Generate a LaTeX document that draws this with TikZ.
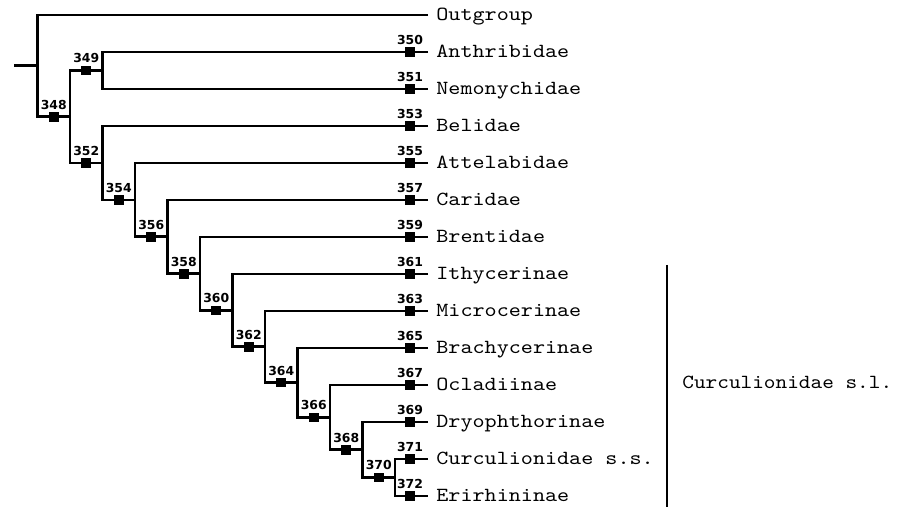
\documentclass[tikz,border=0pt]{standalone}
\usepackage{fontspec}
\newfontfamily\numfont{DejaVu Sans}
\newfontfamily\courfont[Extension=.otf, FakeStretch=1.15]{lmmono10-regular}
\newfontfamily\courslfont[Extension=.otf, FakeStretch=1.11]{lmmono10-regular}
\begin{document}
\begin{tikzpicture}[x=0.5pt,y=-0.5pt,
  br/.style={line width=1.4pt, line join=miter},
  sq/.style={fill=black, minimum size=4.8pt, inner sep=0pt, outer sep=0pt},
  num/.style={font=\numfont\bfseries\fontsize{6.2}{6.2}\selectfont, inner sep=0pt, label distance=1.1pt},
  taxon/.style={font=\courfont\fontsize{10}{12}\selectfont, anchor=base west, inner sep=0pt}]
\useasboundingbox (0,0) rectangle (917,507);
% root and internal vertical points
\coordinate (stub) at (14,65.87);
\coordinate (vR)   at (37.5,65.87);
\coordinate (v348) at (70,116.73);
\coordinate (v349) at (102.5,70.5);
\coordinate (v352) at (102.5,162.96);
\coordinate (v354) at (135,199.93);
\coordinate (v356) at (167.5,236.86);
\coordinate (v358) at (200,273.71);
\coordinate (v360) at (232.5,310.42);
\coordinate (v362) at (265,346.84);
\coordinate (v364) at (297.5,382.69);
\coordinate (v366) at (330,417.38);
\coordinate (v368) at (362.5,449.75);
\coordinate (v370) at (395,477.5);
% leaves
\coordinate (e0) at (428,15);
\node[taxon] (t0) at (436,20.5) {Outgroup};
\foreach \i/\y/\t in {350/52/Anthribidae, 351/89/Nemonychidae, 353/126/Belidae,
  355/163/Attelabidae, 357/200/Caridae, 359/237/Brentidae, 361/274/Ithycerinae,
  363/311/Microcerinae, 365/348/Brachycerinae, 367/385/Ocladiinae,
  369/422/Dryophthorinae, 371/459/Curculionidae s.s., 372/496/Erirhininae}{
  \coordinate (e\i) at (428,\y);
  \node[taxon] (t\i) at (436,\y+5.5) {\t};
}
% branches
\draw[br] (stub) -- (vR);
\draw[br] (e0) -| (vR) |- (v348);
\draw[br] (v349) -| (v348) |- (v352);
\draw[br] (e350) -| (v349) |- (e351);
\draw[br] (e353) -| (v352) |- (v354);
\draw[br] (e355) -| (v354) |- (v356);
\draw[br] (e357) -| (v356) |- (v358);
\draw[br] (e359) -| (v358) |- (v360);
\draw[br] (e361) -| (v360) |- (v362);
\draw[br] (e363) -| (v362) |- (v364);
\draw[br] (e365) -| (v364) |- (v366);
\draw[br] (e367) -| (v366) |- (v368);
\draw[br] (e369) -| (v368) |- (v370);
\draw[br] (e371) -| (v370) |- (e372);
% internal node boxes
\foreach \i/\x/\y in {348/53.75/116.73, 349/86.25/70.5, 352/86.25/162.96,
  354/118.75/199.93, 356/151.25/236.86, 358/183.75/273.71, 360/216.25/310.42,
  362/248.75/346.84, 364/281.25/382.69, 366/313.75/417.38, 368/346.25/449.75,
  370/378.75/477.5}{
  \node[sq, label={[num]above:\i}] (b\i) at (\x,\y) {};
}
% leaf boxes
\foreach \i/\y in {350/52, 351/89, 353/126, 355/163, 357/200, 359/237, 361/274,
  363/311, 365/348, 367/385, 369/422, 371/459, 372/496}{
  \node[sq, label={[num]above:\i}] (b\i) at (410,\y) {};
}
% Curculionidae s.l. bracket
\coordinate (slt) at (667,265);
\coordinate (slb) at (667,507);
\draw[line width=1.3pt] (slt) -- (slb);
\node[font=\courslfont\fontsize{10}{12}\selectfont, anchor=west, inner sep=0pt] (sl) at (682,382) {Curculionidae s.l.};
\end{tikzpicture}
\end{document}
